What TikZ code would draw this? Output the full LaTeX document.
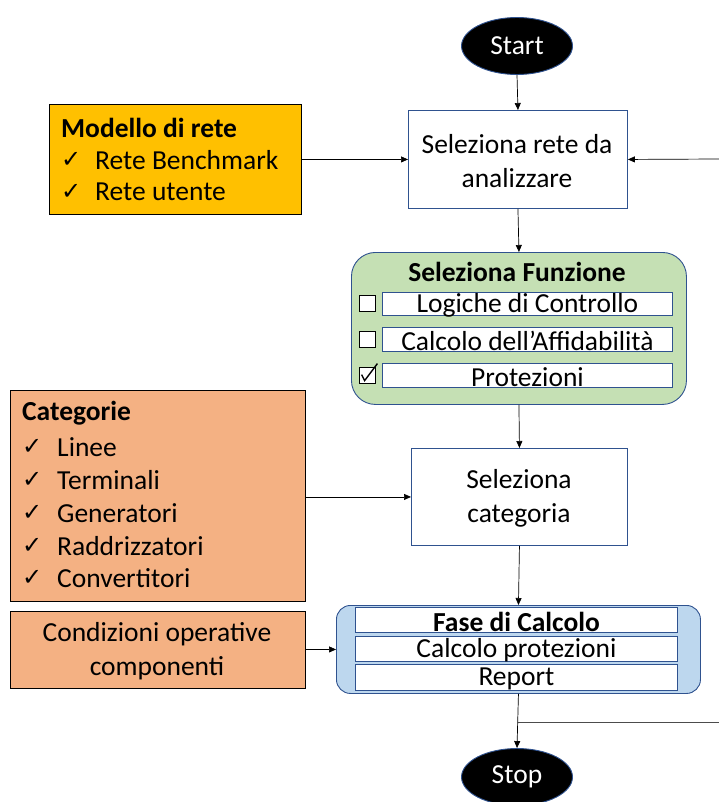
\documentclass[tikz,border=0pt]{standalone}
\usepackage{fontspec}
\setmainfont{Carlito}
\newfontfamily\symfont{DejaVu Sans}
\usetikzlibrary{shapes.geometric,arrows.meta}
\definecolor{boxblue}{HTML}{2F528F}
\definecolor{gold}{HTML}{FFC000}
\definecolor{peach}{HTML}{F4B183}
\definecolor{mint}{HTML}{C5E0B4}
\definecolor{sky}{HTML}{BDD7EE}
\newcommand{\bodyfont}{\fontsize{27.5}{34}\selectfont}
\tikzset{
  txt/.style={font=\bodyfont, inner sep=0pt},
  bold/.style={font=\bfseries\bodyfont, inner sep=0pt},
  stepbox/.style={draw=boxblue, line width=0.9pt, fill=white},
  inbox/.style={draw=black, line width=0.8pt},
  rowbox/.style={draw=boxblue, line width=0.9pt, fill=white},
  chkbox/.style={draw=black, line width=0.8pt, fill=white, minimum size=16pt, inner sep=0pt},
  terminal/.style={ellipse, draw=boxblue, line width=0.9pt, fill=black, text=white,
    minimum width=111pt, minimum height=57pt, inner sep=0pt, font=\bodyfont},
  flow/.style={draw=black, line width=0.7pt, -{Triangle[length=7pt,width=6pt]}},
  plain/.style={draw=black!70, line width=0.7pt},
  tick/.style={font=\symfont\fontsize{24}{28}\selectfont, inner sep=0pt},
}
\begin{document}
\begin{tikzpicture}[x=1pt,y=-1pt]
\useasboundingbox (0,0) rectangle (719,802);
\clip (0,0) rectangle (719,802);

% terminals
\node[terminal] (start) at (517,46) {Start};
\node[terminal] (stop) at (517,777) {Stop};

% first step and its input
\node[stepbox, minimum width=219pt, minimum height=98pt, anchor=north west] (selrete) at (408,110) {};
\node[txt, align=center] (selretet) at (517,161) {Seleziona rete da\\analizzare};

\node[inbox, fill=gold, minimum width=252pt, minimum height=110pt, anchor=north west] (modello) at (49,104) {};
\node[bold, anchor=west] (modt) at (61,128) {Modello di rete};
\node[tick, anchor=west] (mk1) at (61,160) {✓};
\node[txt, anchor=west] (mi1) at (95,160) {Rete Benchmark};
\node[tick, anchor=west] (mk2) at (61,192) {✓};
\node[txt, anchor=west] (mi2) at (95,192) {Rete utente};

\coordinate (rin) at (719,159);
\draw[flow] (start.south) -- (selrete.north);
\draw[flow] (modello.east |- selrete.west) -- (selrete.west);
\draw[flow] (rin) -- (selrete.east);

% function selection
\node[draw=boxblue, line width=0.9pt, fill=mint, rounded corners=24pt,
  minimum width=335pt, minimum height=152pt, anchor=north west] (funz) at (351,252) {};
\node[bold] (funzt) at (517,272) {Seleziona Funzione};
\node[rowbox, minimum width=290pt, minimum height=23pt, anchor=north west] (f1) at (382,292) {};
\node[txt] (f1t) at ([yshift=-1.5pt]f1.center) {Logiche di Controllo};
\node[rowbox, minimum width=290pt, minimum height=24pt, anchor=north west] (f2) at (382,327) {};
\node[txt] (f2t) at ([yshift=-1.5pt]f2.center) {Calcolo dell’Affidabilità};
\node[rowbox, minimum width=290pt, minimum height=24pt, anchor=north west] (f3) at (382,363) {};
\node[txt] (f3t) at ([yshift=-1.5pt]f3.center) {Protezioni};
\node[chkbox] (c1) at (367,303.5) {};
\node[chkbox] (c2) at (367,339) {};
\node[chkbox] (c3) at (367,375) {};
\draw[line width=1.4pt] ([shift={(3,8)}]c3.north west) -- ([shift={(6,14)}]c3.north west) -- ([shift={(2,-3)}]c3.north east);

\draw[flow] (selrete.south) -- (funz.north);

% category selection
\node[stepbox, minimum width=216pt, minimum height=97pt, anchor=north west] (selcat) at (411,448) {};
\node[txt, align=center] (selcatt) at (519,498) {Seleziona\\categoria};

\node[inbox, fill=peach, minimum width=295pt, minimum height=211pt, anchor=north west] (cat) at (10,390) {};
\node[bold, anchor=west] (catt) at (22,413) {Categorie};
\foreach \y/\w [count=\i] in {447/Linee,480/Terminali,513/Generatori,546/Raddrizzatori,578/Convertitori}{
  \node[tick, anchor=west] (ck\i) at (22,\y) {✓};
  \node[txt, anchor=west] (ci\i) at (57,\y) {\w};
}

\draw[flow] (funz.south) -- (selcat.north);
\draw[flow] (cat.east |- selcat.west) -- (selcat.west);

% calculation phase
\node[draw=boxblue, line width=0.9pt, fill=sky, rounded corners=14pt,
  minimum width=364pt, minimum height=88pt, anchor=north west] (fase) at (336,605) {};
\node[rowbox, minimum width=322pt, minimum height=25pt, anchor=north west] (p1) at (355,607) {};
\node[bold] (p1t) at ([yshift=-1.5pt]p1.center) {Fase di Calcolo};
\node[rowbox, minimum width=322pt, minimum height=25pt, anchor=north west] (p2) at (355,636) {};
\node[txt] (p2t) at ([yshift=-1.5pt]p2.center) {Calcolo protezioni};
\node[rowbox, minimum width=322pt, minimum height=26pt, anchor=north west] (p3) at (355,664) {};
\node[txt] (p3t) at ([yshift=-1.5pt]p3.center) {Report};

\node[inbox, fill=peach, minimum width=295pt, minimum height=77pt, anchor=north west] (cond) at (10,611) {};
\node[txt, align=center] (condt) at (157,651) {Condizioni operative\\componenti};

\draw[flow] (selcat.south) -- (fase.north);
\draw[flow] (cond.east |- fase.west) -- (fase.west);

% exit and loop-back branch
\coordinate (br) at (517,722);
\coordinate (rout) at (719,722);
\draw[flow] (fase.south) -- (stop.north);
\draw[plain] (br) -- (rout);
\end{tikzpicture}
\end{document}
